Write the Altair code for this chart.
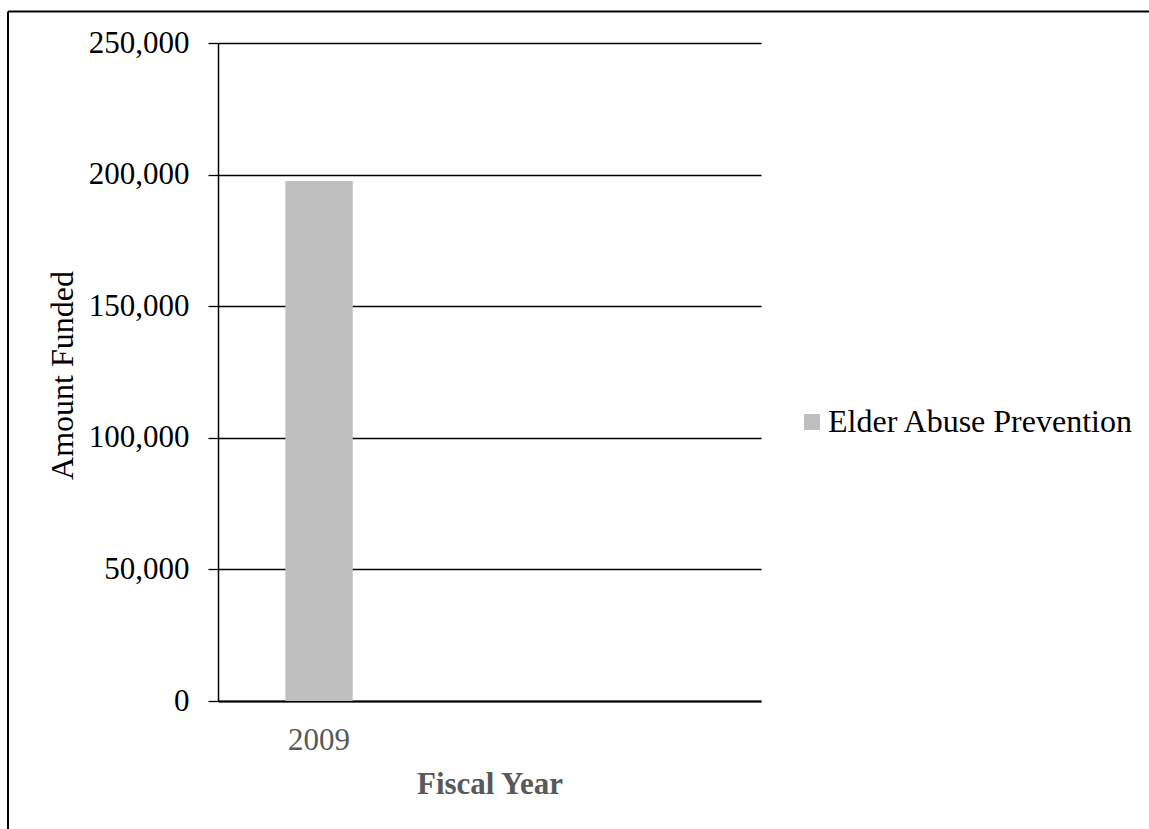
import altair as alt
import pandas as pd

# ---- data ----
fiscal_years = ["2009"]
series_names = ["Elder Abuse Prevention"]
amounts = [197600]

y_ticks = [0, 50000, 100000, 150000, 200000, 250000]

df = pd.DataFrame({
    "Fiscal Year": fiscal_years,
    "Series": series_names,
    "Amount": amounts,
})

FONT = "Liberation Serif"
W, H = 543, 658

bars = alt.Chart(df).mark_bar(color="#BFBFBF").encode(
    x=alt.X(
        "Fiscal Year:N",
        scale=alt.Scale(paddingInner=0.8, paddingOuter=0.706, align=0.1417),
        axis=alt.Axis(
            title="Fiscal Year",
            labelAngle=0,
            labelFont=FONT,
            labelFontSize=31,
            labelColor="#595959",
            labelBaseline="alphabetic",
            labelPadding=48,
            ticks=False,
            tickSize=0,
            domainColor="black",
            domainWidth=2,
            titleFont=FONT,
            titleFontSize=31,
            titleFontWeight="bold",
            titleColor="#595959",
            titleBaseline="alphabetic",
            titleY=92,
            titleX=W / 2,
            titleAlign="center",
            grid=False,
        ),
    ),
    y=alt.Y(
        "Amount:Q",
        scale=alt.Scale(domain=[0, 250000], nice=False),
        axis=alt.Axis(
            title="Amount Funded",
            values=y_ticks,
            format=",.0f",
            labelFont=FONT,
            labelFontSize=31,
            labelColor="black",
            labelPadding=19,
            tickSize=10,
            tickColor="black",
            tickWidth=1.3,
            domainColor="black",
            domainWidth=1.5,
            grid=True,
            gridColor="black",
            gridWidth=1.3,
            titleFont=FONT,
            titleFontSize=32,
            titleFontWeight="normal",
            titleColor="black",
            titleAngle=-90,
            titleBaseline="alphabetic",
            titleAlign="center",
            titleX=-146,
            titleY=332,
        ),
    ),
    color=alt.Color(
        "Series:N",
        scale=alt.Scale(domain=series_names, range=["#BFBFBF"]),
        legend=alt.Legend(
            title=None,
            orient="none",
            legendX=578,
            legendY=363,
            symbolType="square",
            symbolSize=256,
            symbolStrokeWidth=0,
            labelFont=FONT,
            labelFontSize=32,
            labelColor="black",
            labelOffset=0,
            labelLimit=500,
            padding=0,
        ),
    ),
)

frame_left = alt.Chart(alt.Data(values=[{}])).mark_rule(color="black", strokeWidth=2).encode(
    x=alt.value(-210), y=alt.value(-31.5), y2=alt.value(900)
)
frame_top = alt.Chart(alt.Data(values=[{}])).mark_rule(color="black", strokeWidth=2).encode(
    x=alt.value(-210), x2=alt.value(1000), y=alt.value(-31.5)
)

chart = alt.layer(bars, frame_left, frame_top).properties(
    width=W,
    height=H,
    autosize=alt.AutoSizeParams(type="none"),
    padding={"left": 218, "top": 43, "right": 388, "bottom": 128},
    background="white",
).configure_view(stroke=None)

chart.save("out.html", embed_options={"renderer": "svg", "actions": False})
